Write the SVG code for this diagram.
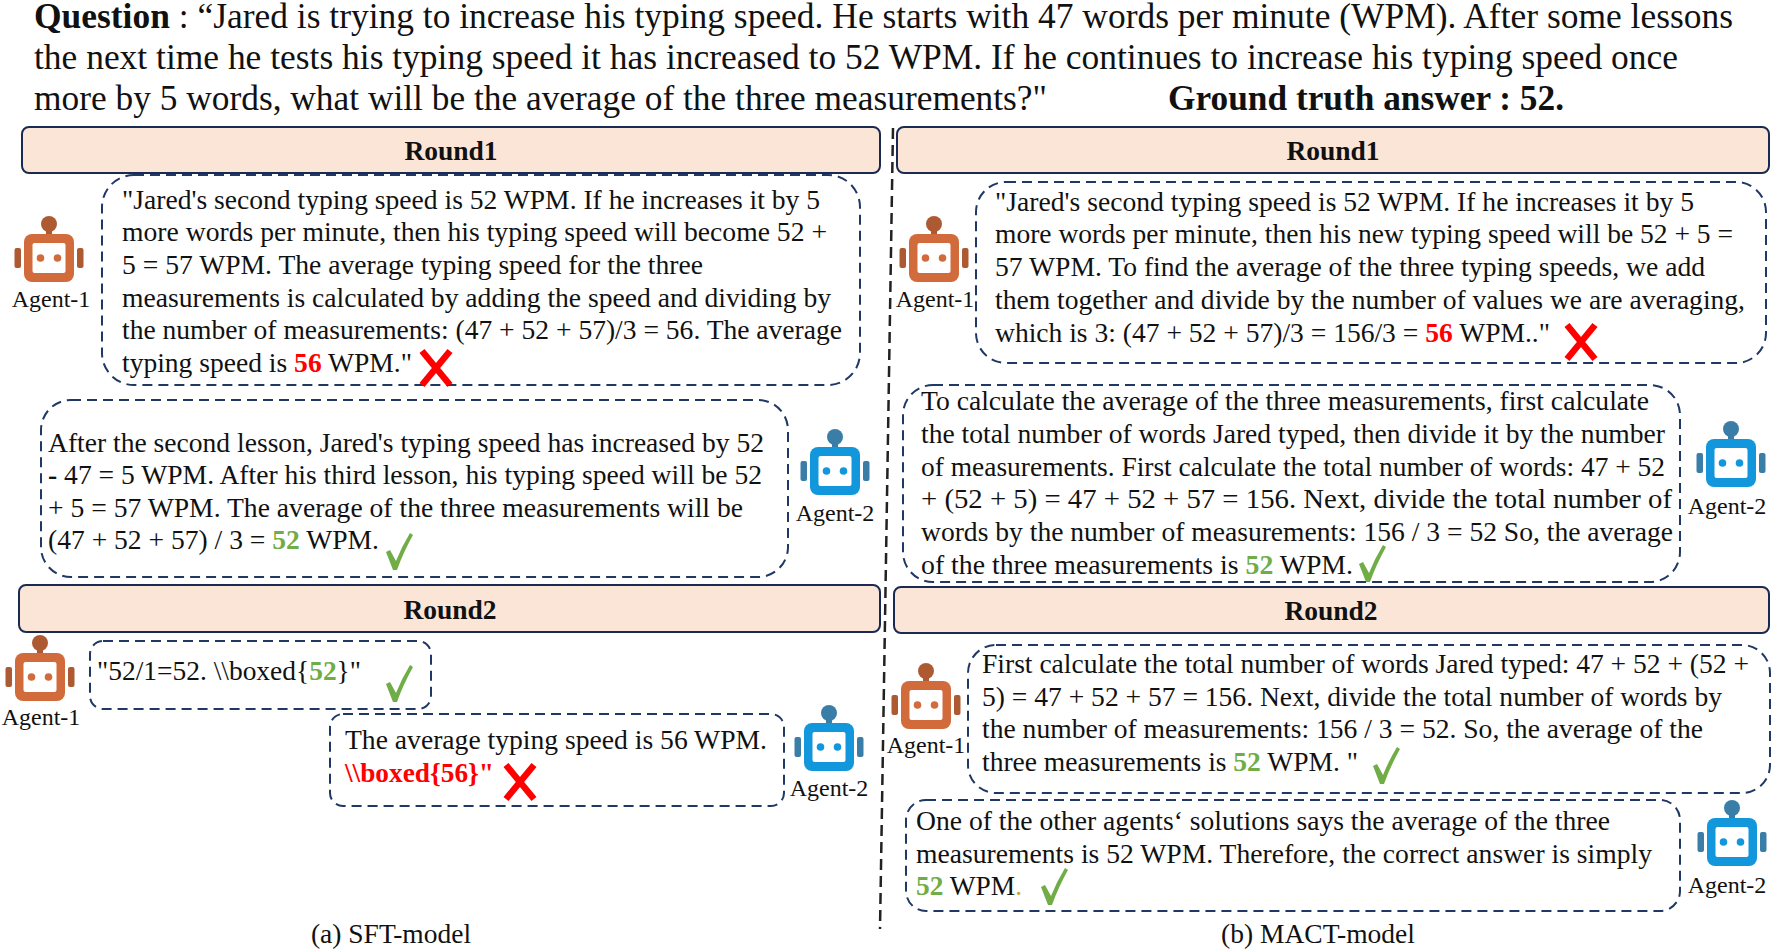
<svg xmlns="http://www.w3.org/2000/svg" width="1772" height="952" viewBox="0 0 1772 952">
<style>
text{font-family:"Liberation Serif","Times New Roman",serif;fill:#111;}
.q{font-size:35.500px}
.t{font-size:27.500px}
.b{font-weight:700}
.g{fill:#70ad47;font-weight:700}
.r{fill:#f00;font-weight:700}
.hd{fill:#fbe5d6;stroke:#1a2a52;stroke-width:2}
.hl{font-size:27.500px;font-weight:700;text-anchor:middle}
.dbox{fill:#fff;stroke:#1f3864;stroke-width:2;stroke-dasharray:10 6}
.al{font-size:24px;text-anchor:middle}
.cap{font-size:27.500px;text-anchor:middle}
.o{--m:#d26b3b;--d:#ad5a32}
.u{--m:#1297dc;--d:#3a7ea8}
.m{fill:var(--m)}
.d{fill:var(--d)}
</style>
<defs>
<g id="robot">
<circle class="d" cx="0" cy="-34" r="8"/>
<rect class="d" x="-3" y="-28" width="6" height="6"/>
<rect class="d" x="-34.500" y="-10" width="6.500" height="20" rx="2"/>
<rect class="d" x="28" y="-10" width="6.500" height="20" rx="2"/>
<rect class="m" x="-25" y="-24" width="50" height="48" rx="8"/>
<rect x="-16.500" y="-15" width="33" height="30" rx="2" fill="#fff"/>
<circle class="m" cx="-8.500" cy="0" r="3.800"/>
<circle class="m" cx="8.500" cy="0" r="3.800"/>
</g>
<g id="cross"><path d="M-14-17 L14 17 M14-17 L-14 17" fill="none" stroke="#f00" stroke-width="6.500"/></g>
<g id="check"><path d="M-12 1 L-8-1 L-2 10 Q4-5 12-18 L15-16 Q5 2-1 19 L-5 19 Z" fill="#70ad47"/></g>
</defs>
<rect width="1772" height="952" fill="#fff"/>

<g id="question">
<text class="q" lengthAdjust="spacingAndGlyphs" x="34" y="28" textLength="1699"><tspan class="b">Question</tspan> : “Jared is trying to increase his typing speed. He starts with 47 words per minute (WPM). After some lessons</text>
<text class="q" lengthAdjust="spacingAndGlyphs" x="34" y="69" textLength="1644">the next time he tests his typing speed it has increased to 52 WPM. If he continues to increase his typing speed once</text>
<text class="q" lengthAdjust="spacingAndGlyphs" x="34" y="110" textLength="1013">more by 5 words, what will be the average of the three measurements?"</text>
<text class="q b" lengthAdjust="spacingAndGlyphs" x="1168" y="110" textLength="396">Ground truth answer : 52.</text>
</g>

<g id="connectors">
<path d="M893 128 L880 929" fill="none" stroke="#222" stroke-width="2.500" stroke-dasharray="11 6"/>
</g>

<g id="left-round1"><rect class="hd" x="22" y="127" width="858" height="46" rx="7"/><text class="hl" x="451" y="160">Round1</text></g>
<g id="right-round1"><rect class="hd" x="897" y="127" width="872" height="46" rx="7"/><text class="hl" x="1333" y="160">Round1</text></g>
<g id="left-round2"><rect class="hd" x="19" y="585" width="861" height="47" rx="7"/><text class="hl" x="450" y="619">Round2</text></g>
<g id="right-round2"><rect class="hd" x="894" y="587" width="875" height="46" rx="7"/><text class="hl" x="1331" y="620">Round2</text></g>

<g id="sft-r1-a1-msg"><rect class="dbox" x="102" y="175" width="758" height="210" rx="32"/>
<text class="t" lengthAdjust="spacingAndGlyphs" x="122" y="208.500" textLength="698">"Jared's second typing speed is 52 WPM. If he increases it by 5</text>
<text class="t" lengthAdjust="spacingAndGlyphs" x="122" y="241" textLength="705">more words per minute, then his typing speed will become 52 +</text>
<text class="t" lengthAdjust="spacingAndGlyphs" x="122" y="274" textLength="581">5 = 57 WPM. The average typing speed for the three</text>
<text class="t" lengthAdjust="spacingAndGlyphs" x="122" y="306.500" textLength="709">measurements is calculated by adding the speed and dividing by</text>
<text class="t" lengthAdjust="spacingAndGlyphs" x="122" y="339" textLength="720">the number of measurements: (47 + 52 + 57)/3 = 56. The average</text>
<text class="t" lengthAdjust="spacingAndGlyphs" x="122" y="372" textLength="290">typing speed is <tspan class="r">56</tspan> WPM."</text>
<use href="#cross" x="436" y="368"/></g>

<g id="sft-r1-a2-msg"><rect class="dbox" x="41" y="400" width="747" height="177" rx="30"/>
<text class="t" lengthAdjust="spacingAndGlyphs" x="48" y="451.500" textLength="716">After the second lesson, Jared's typing speed has increased by 52</text>
<text class="t" lengthAdjust="spacingAndGlyphs" x="48" y="484" textLength="714"><tspan class="b">-</tspan> 47 = 5 WPM. After his third lesson, his typing speed will be 52</text>
<text class="t" lengthAdjust="spacingAndGlyphs" x="48" y="517" textLength="695">+ 5 = 57 WPM. The average of the three measurements will be</text>
<text class="t" lengthAdjust="spacingAndGlyphs" x="48" y="549" textLength="331">(47 + 52 + 57) / 3 = <tspan class="g">52</tspan> WPM.</text>
<use href="#check" x="398" y="551"/></g>

<g id="sft-r2-a1-msg"><rect class="dbox" x="90" y="641" width="341" height="68" rx="13"/>
<text class="t" lengthAdjust="spacingAndGlyphs" x="97" y="679.500" textLength="264">"52/1=52. \\boxed{<tspan class="g">52</tspan>}"</text>
<use href="#check" x="398" y="683"/></g>

<g id="sft-r2-a2-msg"><rect class="dbox" x="330" y="714" width="454" height="92" rx="13"/>
<text class="t" lengthAdjust="spacingAndGlyphs" x="345" y="749" textLength="422">The average typing speed is 56 WPM.</text>
<text class="t r" lengthAdjust="spacingAndGlyphs" x="345" y="782" textLength="149">\\boxed{56}"</text>
<use href="#cross" x="520" y="782"/></g>

<g id="mact-r1-a1-msg"><rect class="dbox" x="976" y="182" width="790" height="181" rx="30"/>
<text class="t" lengthAdjust="spacingAndGlyphs" x="995" y="210.500" textLength="699">"Jared's second typing speed is 52 WPM. If he increases it by 5</text>
<text class="t" lengthAdjust="spacingAndGlyphs" x="995" y="243" textLength="738">more words per minute, then his new typing speed will be 52 + 5 =</text>
<text class="t" lengthAdjust="spacingAndGlyphs" x="995" y="276" textLength="710">57 WPM. To find the average of the three typing speeds, we add</text>
<text class="t" lengthAdjust="spacingAndGlyphs" x="995" y="309" textLength="750">them together and divide by the number of values we are averaging,</text>
<text class="t" lengthAdjust="spacingAndGlyphs" x="995" y="342" textLength="555">which is 3: (47 + 52 + 57)/3 = 156/3 = <tspan class="r">56</tspan> WPM.."</text>
<use href="#cross" x="1581" y="342"/></g>

<g id="mact-r1-a2-msg"><rect class="dbox" x="903" y="385" width="777" height="197" rx="30"/>
<text class="t" lengthAdjust="spacingAndGlyphs" x="921" y="410" textLength="728">To calculate the average of the three measurements, first calculate</text>
<text class="t" lengthAdjust="spacingAndGlyphs" x="921" y="443" textLength="744">the total number of words Jared typed, then divide it by the number</text>
<text class="t" lengthAdjust="spacingAndGlyphs" x="921" y="475.500" textLength="744">of measurements. First calculate the total number of words: 47 + 52</text>
<text class="t" lengthAdjust="spacingAndGlyphs" x="921" y="508" textLength="751">+ (52 + 5) = 47 + 52 + 57 = 156. Next, divide the total number of</text>
<text class="t" lengthAdjust="spacingAndGlyphs" x="921" y="541" textLength="752">words by the number of measurements: 156 / 3 = 52 So, the average</text>
<text class="t" lengthAdjust="spacingAndGlyphs" x="921" y="573.500" textLength="432">of the three measurements is <tspan class="g">52</tspan> WPM.</text>
<use href="#check" x="1371" y="563"/></g>

<g id="mact-r2-a1-msg"><rect class="dbox" x="968" y="645" width="802" height="148" rx="28"/>
<text class="t" lengthAdjust="spacingAndGlyphs" x="982" y="673" textLength="767">First calculate the total number of words Jared typed: 47 + 52 + (52 +</text>
<text class="t" lengthAdjust="spacingAndGlyphs" x="982" y="705.500" textLength="740">5) = 47 + 52 + 57 = 156. Next, divide the total number of words by</text>
<text class="t" lengthAdjust="spacingAndGlyphs" x="982" y="738" textLength="721">the number of measurements: 156 / 3 = 52. So, the average of the</text>
<text class="t" lengthAdjust="spacingAndGlyphs" x="982" y="771" textLength="376">three measurements is <tspan class="g">52</tspan> WPM. "</text>
<use href="#check" x="1385" y="765"/></g>

<g id="mact-r2-a2-msg"><rect class="dbox" x="906" y="800" width="774" height="111" rx="20"/>
<text class="t" lengthAdjust="spacingAndGlyphs" x="916" y="830" textLength="694">One of the other agents‘ solutions says the average of the three</text>
<text class="t" lengthAdjust="spacingAndGlyphs" x="916" y="862.500" textLength="736">measurements is 52 WPM. Therefore, the correct answer is simply</text>
<text class="t" lengthAdjust="spacingAndGlyphs" x="916" y="895" textLength="106"><tspan class="g">52</tspan> WPM<tspan fill="#c9a227">.</tspan></text>
<use href="#check" x="1053" y="886"/></g>

<g id="sft-r1-agent1" class="o"><use href="#robot" x="49" y="258"/><text class="al" x="51" y="307">Agent-1</text></g>
<g id="sft-r1-agent2" class="u"><use href="#robot" x="835" y="471"/><text class="al" x="835" y="521">Agent-2</text></g>
<g id="sft-r2-agent1" class="o"><use href="#robot" x="40" y="677"/><text class="al" x="41" y="725">Agent-1</text></g>
<g id="sft-r2-agent2" class="u"><use href="#robot" x="829" y="747"/><text class="al" x="829" y="796">Agent-2</text></g>
<g id="mact-r1-agent1" class="o"><use href="#robot" x="934" y="258"/><text class="al" x="935" y="307">Agent-1</text></g>
<g id="mact-r1-agent2" class="u"><use href="#robot" x="1731" y="463"/><text class="al" x="1727" y="514">Agent-2</text></g>
<g id="mact-r2-agent1" class="o"><use href="#robot" x="926" y="705"/><text class="al" x="926" y="753">Agent-1</text></g>
<g id="mact-r2-agent2" class="u"><use href="#robot" x="1732" y="842"/><text class="al" x="1727" y="893">Agent-2</text></g>

<text class="cap" x="391" y="943">(a) SFT-model</text>
<text class="cap" x="1318" y="943">(b) MACT-model</text>
</svg>
